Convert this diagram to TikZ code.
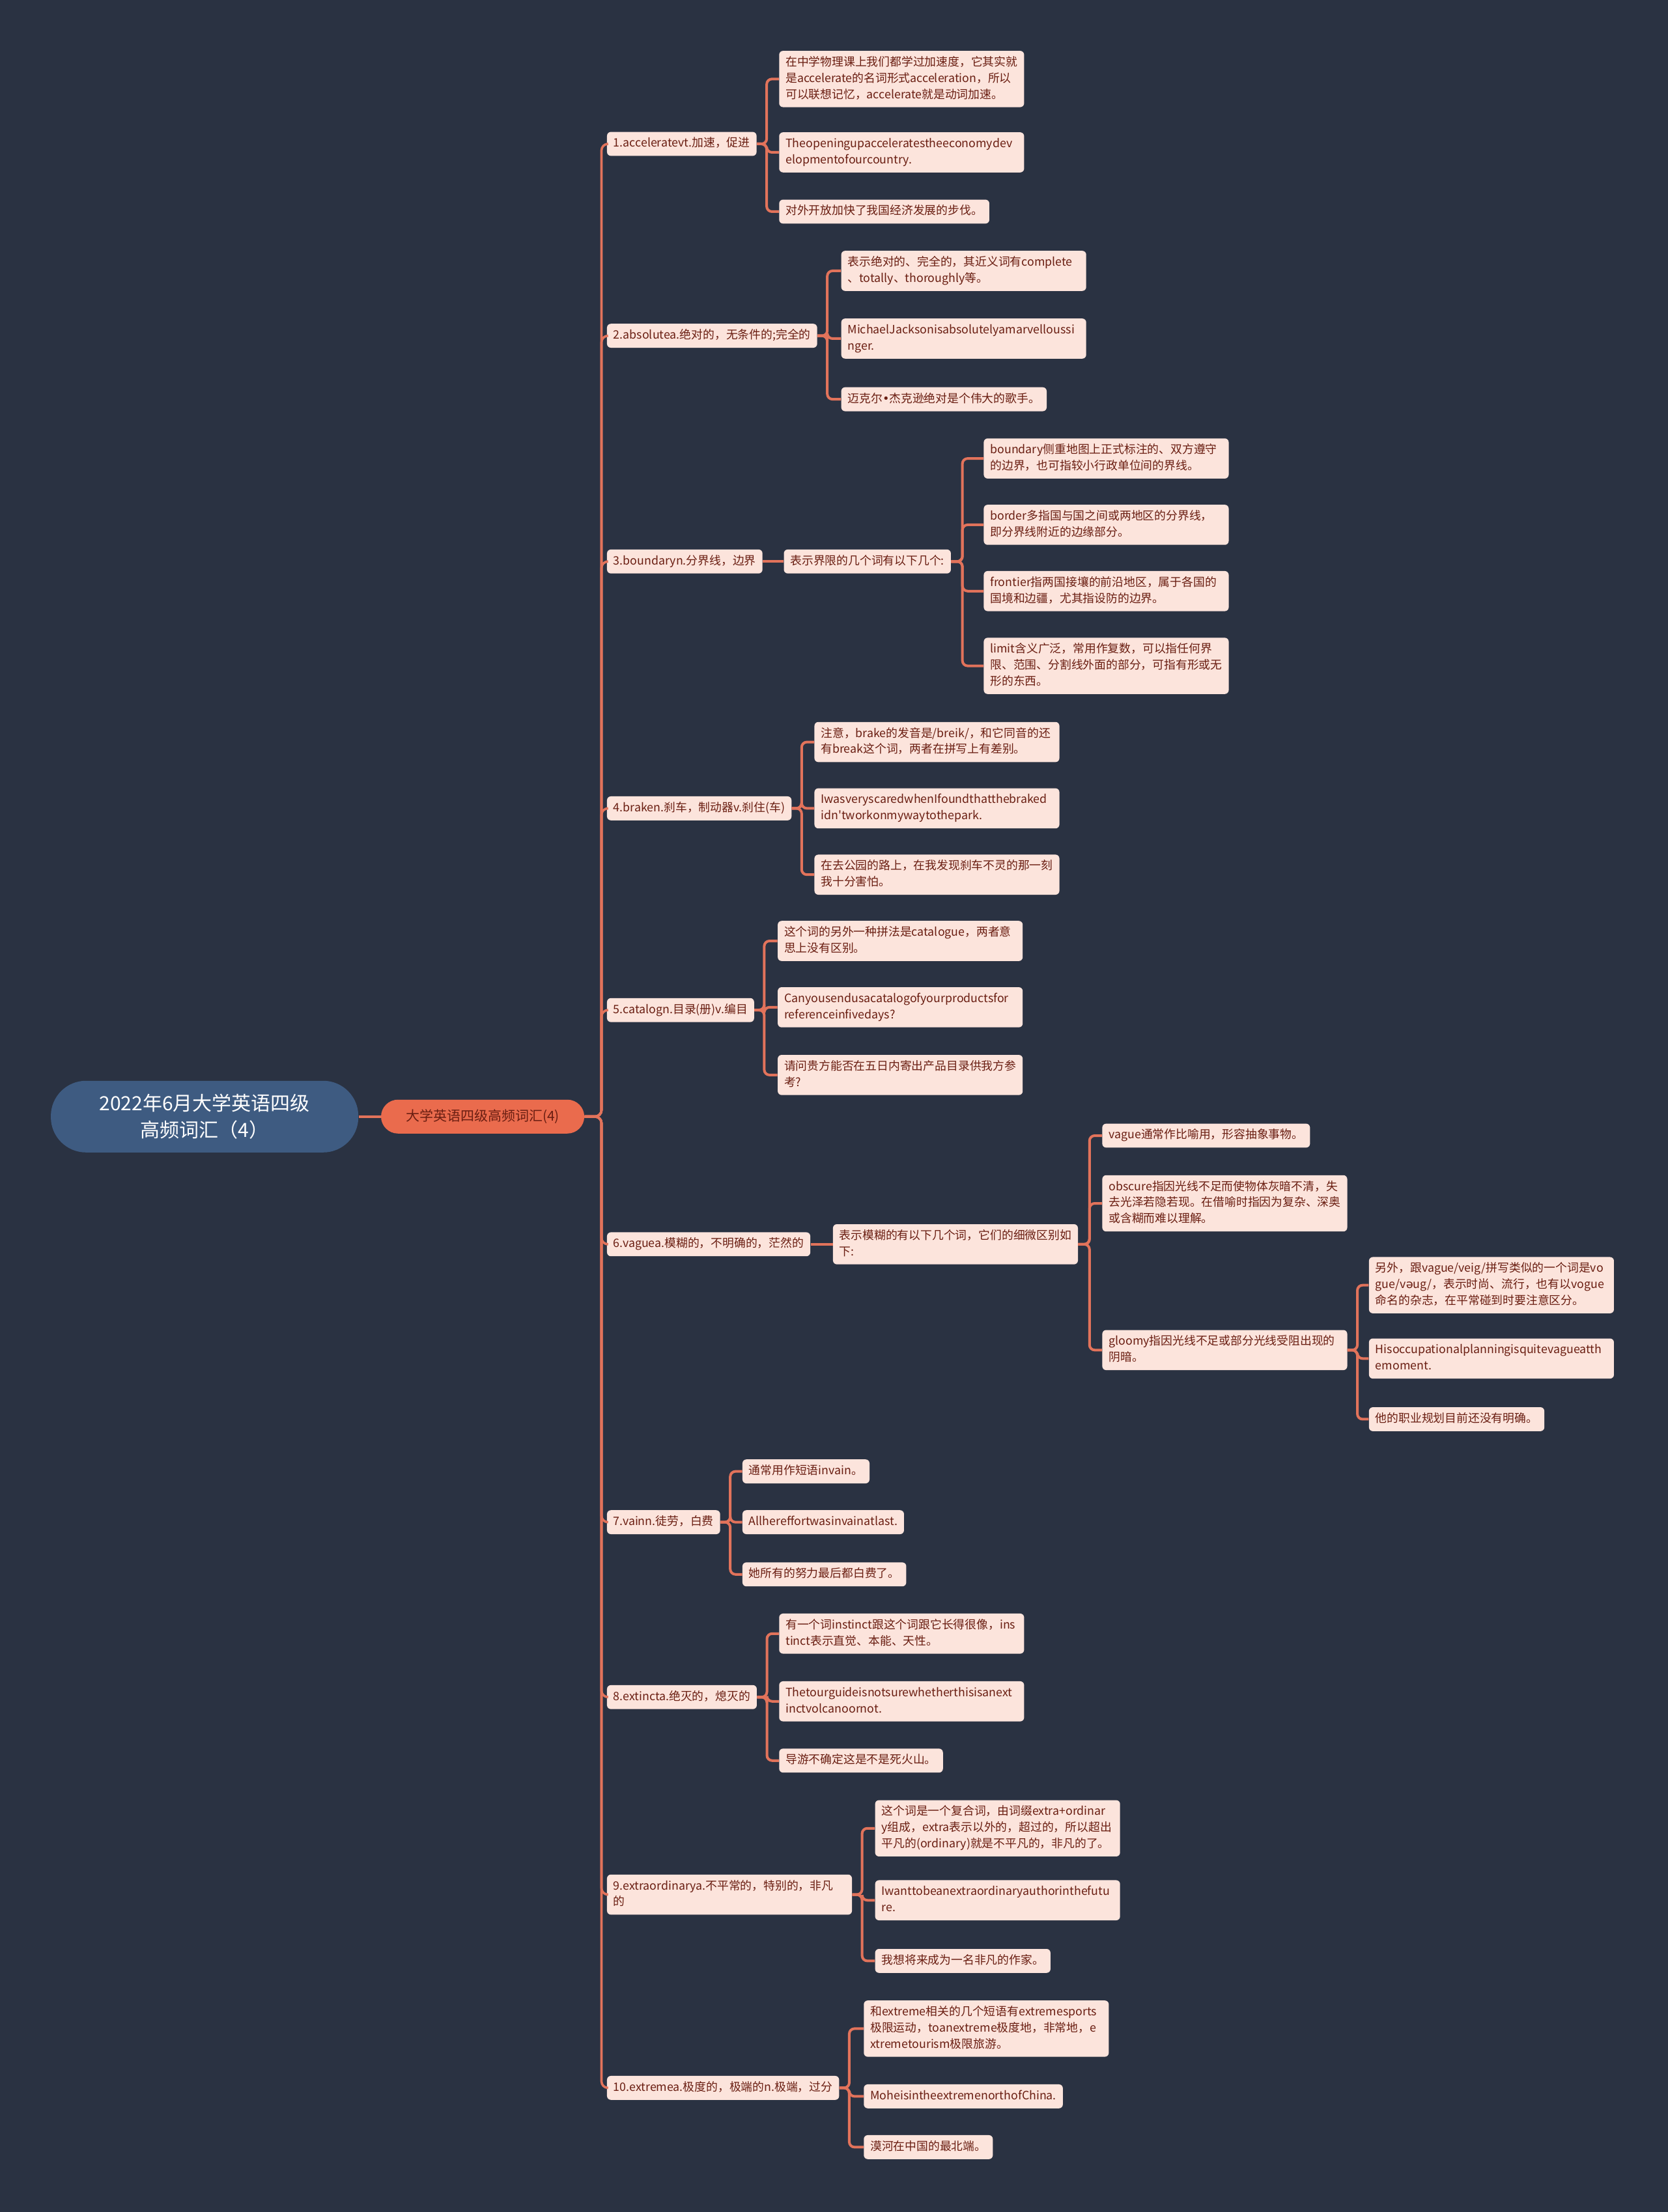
\documentclass[tikz,border=0pt]{standalone}
\usepackage{fontspec}
\setmainfont{Noto Sans CJK SC}
\newfontfamily\ipafont{DejaVu Sans}
\usetikzlibrary{positioning,calc}
\definecolor{bg}{HTML}{2A3242}
\definecolor{twigred}{HTML}{E2735B}
\definecolor{paper}{HTML}{FCE4DC}
\definecolor{ink}{HTML}{6A1E12}
\definecolor{rootblue}{HTML}{3E5B81}
\definecolor{topicred}{HTML}{EA6B4D}
\newcommand\leaffont{\fontsize{8.9}{12.4}\selectfont}
\tikzset{
	mind/.style={x=1.0829pt,y=-1.0829pt},
	root/.style={rounded corners=27pt,fill=rootblue,text=white,minimum width=236pt,
		minimum height=55pt,align=center,font=\fontsize{15}{20.6}\selectfont},
	topic/.style={rounded corners=13pt,fill=topicred,text=ink,minimum width=156pt,
		minimum height=26pt,font=\fontsize{10.5}{13}\selectfont},
	word/.style={rounded corners=3pt,fill=paper,text=ink,font=\leaffont,inner xsep=5pt,
		inner ysep=3pt,align=left,execute at begin node=\strut,execute at end node=\strut,anchor=west},
	leaf/.style={word,text width=178pt},
	trunk/.style={draw=twigred,line width=1.8pt,rounded corners=5pt},
	twig/.style={draw=twigred,line width=2pt,rounded corners=4pt}
}
\begin{document}
\begin{tikzpicture}[mind]
	\useasboundingbox (0,0) rectangle (1182,1568);
	\fill[bg] (0,0) rectangle (1182,1568);
	
	\node[root] (r) at (145,791.5) {2022年6月大学英语四级\\高频词汇（4）};
	\node[topic] (t) [right=17pt of r] {大学英语四级高频词汇(4)};
	
	% words
	\node[word] (w1) at (430,102) {1.acceleratevt.加速，促进};
	\node[word] (w2) at (430,238) {2.absolutea.绝对的，无条件的;完全的};
	\node[word] (w3) at (430,398) {3.boundaryn.分界线，边界};
	\node[word] (w4) at (430,573) {4.braken.刹车，制动器v.刹住(车)};
	\node[word] (w5) at (430,716) {5.catalogn.目录(册)v.编目};
	\node[word] (w6) at (430,882) {6.vaguea.模糊的，不明确的，茫然的};
	\node[word] (w7) at (430,1079) {7.vainn.徒劳，白费};
	\node[word] (w8) at (430,1203) {8.extincta.绝灭的，熄灭的};
	\node[leaf] (w9) at (430,1343) {9.extraordinarya.不平常的，特别的，非凡\\的};
	\node[word] (w10) at (430,1480) {10.extremea.极度的，极端的n.极端，过分};
	
	% 1
	\node[leaf] (w1a) at (552,56) {在中学物理课上我们都学过加速度，它其实就\\是accelerate的名词形式acceleration，所以\\可以联想记忆，accelerate就是动词加速。};
	\node[leaf] (w1b) at (552,108) {Theopeningupacceleratestheeconomydev\\elopmentofourcountry.};
	\node[word] (w1c) at (552,150) {对外开放加快了我国经济发展的步伐。};
	% 2
	\node[leaf] (w2a) at (596,192) {表示绝对的、完全的，其近义词有complete\\、totally、thoroughly等。};
	\node[leaf] (w2b) at (596,240) {MichaelJacksonisabsolutelyamarvelloussi\\nger.};
	\node[word] (w2c) at (596,283) {迈克尔{\ipafont •}杰克逊绝对是个伟大的歌手。};
	% 3
	\node[word] (m3) [right=16pt of w3] {表示界限的几个词有以下几个:};
	\node[leaf] (w3a) at (697,325) {boundary侧重地图上正式标注的、双方遵守\\的边界，也可指较小行政单位间的界线。};
	\node[leaf] (w3b) at (697,372) {border多指国与国之间或两地区的分界线，\\即分界线附近的边缘部分。};
	\node[leaf] (w3c) at (697,419) {frontier指两国接壤的前沿地区，属于各国的\\国境和边疆，尤其指设防的边界。};
	\node[leaf] (w3d) at (697,472) {limit含义广泛，常用作复数，可以指任何界\\限、范围、分割线外面的部分，可指有形或无\\形的东西。};
	% 4
	\node[leaf] (w4a) at (577,526) {注意，brake的发音是/breik/，和它同音的还\\有break这个词，两者在拼写上有差别。};
	\node[leaf] (w4b) at (577,573) {IwasveryscaredwhenIfoundthatthebraked\\idn\textquotesingle tworkonmywaytothepark.};
	\node[leaf] (w4c) at (577,620) {在去公园的路上，在我发现刹车不灵的那一刻\\我十分害怕。};
	% 5
	\node[leaf] (w5a) at (551,667) {这个词的另外一种拼法是catalogue，两者意\\思上没有区别。};
	\node[leaf] (w5b) at (551,714) {Canyousendusacatalogofyourproductsfor\\referenceinfivedays?};
	\node[leaf] (w5c) at (551,762) {请问贵方能否在五日内寄出产品目录供我方参\\考?};
	% 6
	\node[leaf] (m6) [right=17pt of w6] {表示模糊的有以下几个词，它们的细微区别如\\下:};
	\node[word] (w6a) at (781,805) {vague通常作比喻用，形容抽象事物。};
	\node[leaf] (w6b) at (781,853) {obscure指因光线不足而使物体灰暗不清，失\\去光泽若隐若现。在借喻时指因为复杂、深奥\\或含糊而难以理解。};
	\node[leaf] (w6c) at (781,957) {gloomy指因光线不足或部分光线受阻出现的\\阴暗。};
	\node[leaf] (w6c1) at (970,911) {另外，跟vague/veig/拼写类似的一个词是vo\\gue/v{\ipafont ə}ug/，表示时尚、流行，也有以vogue\\命名的杂志，在平常碰到时要注意区分。};
	\node[leaf] (w6c2) at (970,963) {Hisoccupationalplanningisquitevagueatth\\emoment.};
	\node[word] (w6c3) at (970,1006) {他的职业规划目前还没有明确。};
	% 7
	\node[word] (w7a) at (526,1043) {通常用作短语invain。};
	\node[word] (w7b) at (526,1079) {Allhereffortwasinvainatlast.};
	\node[word] (w7c) at (526,1116) {她所有的努力最后都白费了。};
	% 8
	\node[leaf] (w8a) at (552,1158) {有一个词instinct跟这个词跟它长得很像，ins\\tinct表示直觉、本能、天性。};
	\node[leaf] (w8b) at (552,1206) {Thetourguideisnotsurewhetherthisisanext\\inctvolcanoornot.};
	\node[word] (w8c) at (552,1248) {导游不确定这是不是死火山。};
	% 9
	\node[leaf] (w9a) at (620,1296) {这个词是一个复合词，由词缀extra+ordinar\\y组成，extra表示以外的，超过的，所以超出\\平凡的(ordinary)就是不平凡的，非凡的了。};
	\node[leaf] (w9b) at (620,1347) {Iwanttobeanextraordinaryauthorinthefutu\\re.};
	\node[word] (w9c) at (620,1390) {我想将来成为一名非凡的作家。};
	% 10
	\node[leaf] (w10a) at (612,1438) {和extreme相关的几个短语有extremesports\\极限运动，toanextreme极度地，非常地，e\\xtremetourism极限旅游。};
	\node[word] (w10b) at (612,1486) {MoheisintheextremenorthofChina.};
	\node[word] (w10c) at (612,1522) {漠河在中国的最北端。};
	
	\draw[twig] (r) -- (t);
	\foreach \n in {1,...,10}
		\draw[trunk] (t.east) -- ++(12,0) |- (w\n.west);
	\foreach \p in {1,2,4,5,7,8,9,10}
		\foreach \k in {a,b,c}
			\draw[twig] (w\p.east) -- ++(7,0) |- (w\p\k.west);
	\draw[twig] (w3) -- (m3);
	\foreach \k in {a,b,c,d}
		\draw[twig] (m3.east) -- ++(8,0) |- (w3\k.west);
	\draw[twig] (w6) -- (m6);
	\foreach \k in {a,b,c}
		\draw[twig] (m6.east) -- ++(8,0) |- (w6\k.west);
	\foreach \k in {1,2,3}
		\draw[twig] (w6c.east) -- ++(7,0) |- (w6c\k.west);
\end{tikzpicture}
\end{document}
